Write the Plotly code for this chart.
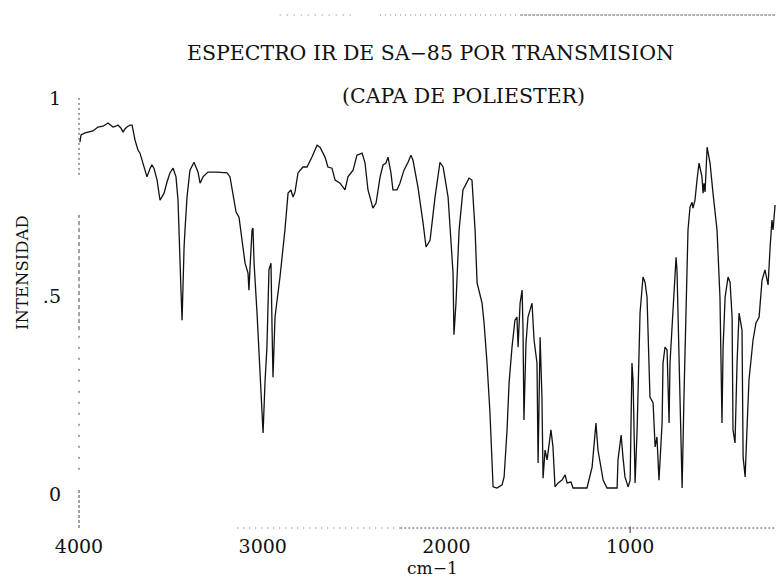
import plotly.graph_objects as go

# IR transmission spectrum of SA-85 (polyester coat)
wavenumber = [
    3995, 3989, 3967, 3924, 3897, 3869, 3842, 3826, 3815, 3799, 3788, 3771, 3760, 3750, 3739, 3722,
    3711, 3695, 3679, 3668, 3657, 3641, 3630, 3613, 3603, 3592, 3575, 3559, 3548, 3537, 3521, 3505,
    3488, 3472, 3461, 3450, 3445, 3439, 3434, 3428, 3423, 3412, 3396, 3374, 3352, 3341, 3325, 3298,
    3249, 3194, 3178, 3162, 3145, 3129, 3113, 3107, 3096, 3080, 3075, 3069, 3058, 3053, 3047, 3031,
    3015, 3004, 2998, 2987, 2977, 2966, 2955, 2949, 2944, 2933, 2906, 2879, 2862, 2846, 2835, 2824,
    2808, 2781, 2759, 2732, 2704, 2688, 2661, 2645, 2623, 2606, 2579, 2552, 2536, 2508, 2487, 2459,
    2443, 2427, 2400, 2383, 2361, 2345, 2329, 2318, 2302, 2291, 2269, 2253, 2231, 2209, 2193, 2182,
    2155, 2127, 2111, 2089, 2062, 2035, 2018, 1991, 1975, 1964, 1959, 1948, 1931, 1910, 1877, 1861,
    1844, 1833, 1806, 1795, 1779, 1763, 1746, 1725, 1697, 1686, 1670, 1659, 1643, 1627, 1616, 1610,
    1599, 1588, 1583, 1578, 1567, 1556, 1534, 1523, 1507, 1501, 1490, 1480, 1474, 1463, 1452, 1431,
    1420, 1409, 1392, 1371, 1354, 1343, 1322, 1311, 1284, 1235, 1207, 1186, 1175, 1158, 1147, 1126,
    1071, 1066, 1049, 1039, 1028, 1011, 1000, 990, 984, 973, 962, 946, 930, 919, 908, 892,
    875, 864, 854, 843, 826, 821, 810, 799, 788, 783, 766, 750, 745, 734, 723, 717,
    707, 696, 685, 674, 663, 658, 647, 636, 625, 609, 603, 598, 592, 581, 565, 549,
    538, 527, 511, 500, 494, 483, 467, 456, 445, 440, 429, 418, 407, 391, 385, 374,
    364, 353, 331, 315, 298, 282, 266, 249, 238, 228, 222, 211,
]
intensity = [
    0.889, 0.907, 0.912, 0.917, 0.927, 0.929, 0.937, 0.932, 0.927, 0.929, 0.932, 0.924, 0.914, 0.922, 0.927, 0.932,
    0.932, 0.894, 0.869, 0.861, 0.843, 0.818, 0.801, 0.823, 0.831, 0.823, 0.793, 0.742, 0.753, 0.760, 0.788, 0.811,
    0.823, 0.801, 0.742, 0.616, 0.515, 0.439, 0.540, 0.624, 0.667, 0.750, 0.818, 0.838, 0.813, 0.785, 0.801, 0.813,
    0.813, 0.811, 0.801, 0.760, 0.712, 0.699, 0.641, 0.624, 0.583, 0.558, 0.515, 0.573, 0.667, 0.672, 0.583, 0.457,
    0.306, 0.187, 0.154, 0.288, 0.371, 0.566, 0.583, 0.414, 0.295, 0.447, 0.548, 0.667, 0.760, 0.768, 0.750, 0.763,
    0.811, 0.826, 0.826, 0.851, 0.881, 0.876, 0.851, 0.826, 0.823, 0.793, 0.785, 0.768, 0.801, 0.818, 0.856, 0.861,
    0.836, 0.768, 0.722, 0.735, 0.801, 0.831, 0.836, 0.851, 0.811, 0.768, 0.768, 0.785, 0.818, 0.838, 0.856, 0.843,
    0.775, 0.684, 0.624, 0.641, 0.750, 0.838, 0.826, 0.750, 0.641, 0.558, 0.402, 0.482, 0.667, 0.768, 0.798, 0.793,
    0.667, 0.533, 0.482, 0.432, 0.331, 0.205, 0.018, 0.015, 0.023, 0.043, 0.162, 0.280, 0.371, 0.439, 0.447, 0.371,
    0.482, 0.515, 0.414, 0.187, 0.381, 0.447, 0.482, 0.389, 0.331, 0.078, 0.396, 0.245, 0.040, 0.111, 0.086, 0.162,
    0.119, 0.018, 0.028, 0.035, 0.048, 0.028, 0.030, 0.015, 0.015, 0.015, 0.068, 0.179, 0.111, 0.061, 0.035, 0.015,
    0.015, 0.086, 0.149, 0.093, 0.043, 0.018, 0.035, 0.331, 0.288, 0.028, 0.162, 0.457, 0.548, 0.535, 0.497, 0.245,
    0.230, 0.119, 0.144, 0.035, 0.179, 0.331, 0.371, 0.364, 0.179, 0.331, 0.472, 0.598, 0.566, 0.331, 0.078, 0.015,
    0.245, 0.439, 0.667, 0.725, 0.737, 0.722, 0.742, 0.793, 0.836, 0.801, 0.760, 0.785, 0.763, 0.876, 0.836, 0.760,
    0.717, 0.667, 0.497, 0.179, 0.371, 0.497, 0.548, 0.535, 0.447, 0.162, 0.129, 0.331, 0.457, 0.414, 0.093, 0.043,
    0.162, 0.288, 0.389, 0.432, 0.447, 0.540, 0.566, 0.528, 0.624, 0.692, 0.667, 0.730,
]

x_ticks = [4000, 3000, 2000, 1000]
x_tick_text = ["4000", "3000", "2000", "1000"]
y_ticks = [0, 0.5, 1]
y_tick_text = ["0", ".5", "1"]

title_text = "ESPECTRO IR DE SA−85 POR TRANSMISION"
subtitle_text = "(CAPA DE POLIESTER)"
x_title = "cm−1"
y_title = "INTENSIDAD"

SERIF = "DejaVu Serif"
INK = "#111111"
Y_MIN, Y_MAX = -0.086, 1.21

fig = go.Figure(
    go.Scatter(
        x=wavenumber,
        y=intensity,
        mode="lines",
        line=dict(color=INK, width=1.3),
        hoverinfo="skip",
    )
)

# plotter-style dotted axis lines
axis_segments = [
    # y axis (paper x = 0), data y
    dict(y0=0.806, y1=1.008, dash="2px,3px"),
    dict(y0=0.414, y1=0.705, dash="4px,3px"),
    dict(y0=0.061, y1=0.414, dash="2px,9px"),
    dict(y0=Y_MIN, y1=0.010, dash="3px,2px"),
]
shapes = []
for s in axis_segments:
    shapes.append(dict(type="line", xref="paper", yref="y", x0=0, x1=0,
                       y0=s["y0"], y1=s["y1"], line=dict(color="#444", width=1, dash=s["dash"])))

frame_segments = [
    # bottom line
    dict(y=0, x0=0.227, x1=0.461, dash="1px,5px", color="#666"),
    dict(y=0, x0=0.461, x1=1.0, dash="2px,2px", color="#555"),
    # top line
    dict(y=1, x0=0.288, x1=0.393, dash="1px,6px", color="#777"),
    dict(y=1, x0=0.432, x1=0.633, dash="1px,4px", color="#777"),
    dict(y=1, x0=0.633, x1=1.0, dash="3px,1px", color="#666"),
]
for s in frame_segments:
    shapes.append(dict(type="line", xref="paper", yref="paper", x0=s["x0"], x1=s["x1"],
                       y0=s["y"], y1=s["y"], line=dict(color=s["color"], width=1, dash=s["dash"])))

# small tick below the axis at 1000 cm-1
shapes.append(dict(type="line", xref="x", yref="paper", x0=1000, x1=1000,
                   y0=-0.01, y1=0.003, line=dict(color="#333", width=1)))

fig.update_layout(
    width=776,
    height=578,
    margin=dict(l=79, r=0, t=15, b=50),
    paper_bgcolor="white",
    plot_bgcolor="white",
    showlegend=False,
    shapes=shapes,
    xaxis=dict(
        range=[4000, 206],
        tickvals=x_ticks,
        ticktext=x_tick_text,
        showgrid=False,
        zeroline=False,
        showline=False,
        ticks="",
        ticklabelstandoff=5,
        tickfont=dict(family=SERIF, size=19, color=INK),
    ),
    yaxis=dict(
        range=[Y_MIN, Y_MAX],
        tickvals=y_ticks,
        ticktext=y_tick_text,
        showgrid=False,
        zeroline=False,
        showline=False,
        ticks="",
        ticklabelstandoff=17,
        tickfont=dict(family=SERIF, size=19, color=INK),
    ),
    annotations=[
        dict(text=title_text, xref="paper", yref="paper", x=0.5036, y=0.926,
             xanchor="center", yanchor="middle", showarrow=False,
             font=dict(family=SERIF, size=20.5, color=INK)),
        dict(text=subtitle_text, xref="paper", yref="paper", x=0.551, y=0.842,
             xanchor="center", yanchor="middle", showarrow=False,
             font=dict(family=SERIF, size=20.5, color=INK)),
        dict(text=y_title, xref="paper", yref="paper", x=-0.0818, y=0.499,
             xanchor="center", yanchor="middle", textangle=-90, showarrow=False,
             font=dict(family=SERIF, size=16.5, color=INK)),
        dict(text=x_title, xref="paper", yref="paper", x=0.5065, y=-0.078,
             xanchor="center", yanchor="middle", showarrow=False,
             font=dict(family=SERIF, size=17, color=INK)),
    ],
)

fig.write_html("out.html")
